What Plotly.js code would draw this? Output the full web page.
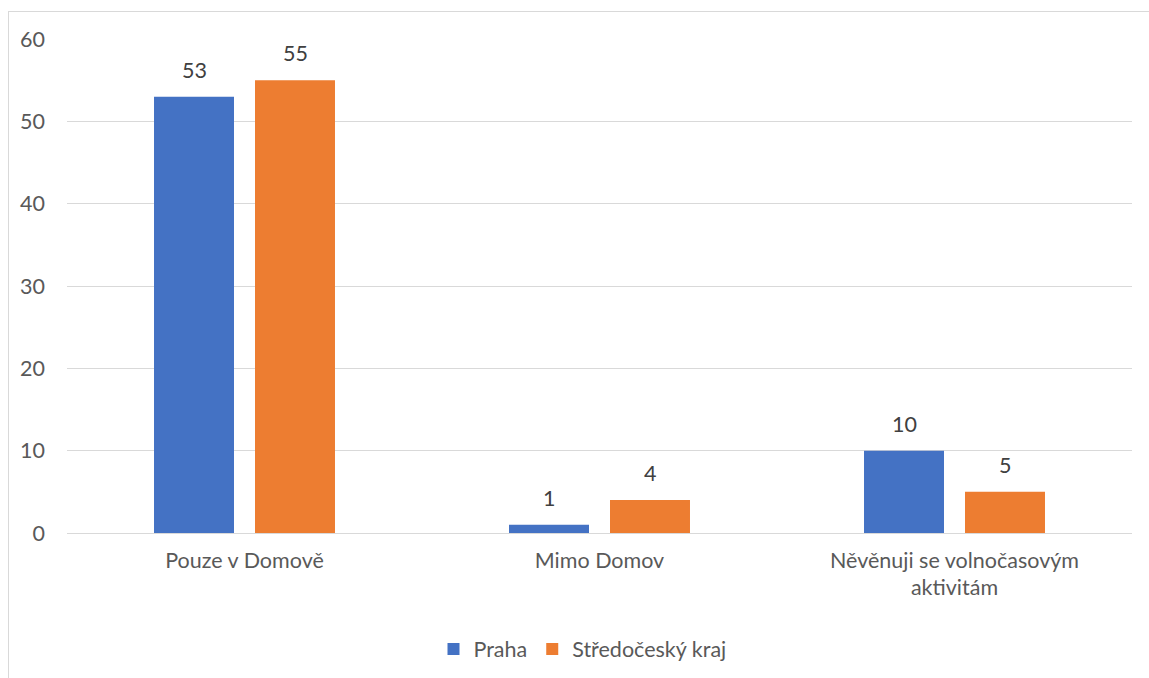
<!DOCTYPE html>
<html>
<head>
<meta charset="utf-8">
<script src="https://cdn.plot.ly/plotly-3.0.1.min.js"></script>
<style>
  html, body { margin: 0; padding: 0; background: #ffffff; overflow: hidden; }
  #frame { position: absolute; left: 8px; top: 11px; width: 2000px; height: 2000px;
           border: 1px solid #d9d9d9; box-sizing: border-box; z-index: 0; }
  #chart { position: absolute; left: 0; top: 0; width: 1149px; height: 678px; z-index: 1; }
</style>
</head>
<body>
<div id="frame"></div>
<div id="chart"></div>
<script>
const categories = ["Pouze v Domově", "Mimo Domov", "Něvěnuji se volnočasovým<br>aktivitám"];
const seriesNames = ["Praha", "Středočeský kraj"];
const praha = [53, 1, 10];
const stredocesky = [55, 4, 5];
const yTicks = [0, 10, 20, 30, 40, 50, 60];

const FONT = "Lato, 'Open Sans', sans-serif";
const TXT = "#595959";
const FS = 21.5;
const colors = ["#4472C4", "#ED7D31"];

const traces = [praha, stredocesky].map((vals, i) => ({
  type: "bar",
  name: seriesNames[i],
  x: categories,
  y: vals,
  marker: { color: colors[i] },
  hoverinfo: "none"
}));

// data labels above bars
const annotations = [];
[praha, stredocesky].forEach((vals, i) => {
  vals.forEach((v, j) => {
    annotations.push({
      x: categories[j], y: v, xref: "x", yref: "y",
      text: String(v), showarrow: false,
      xshift: i === 0 ? -50.5 : 50.5,
      yanchor: "middle", yshift: 27,
      font: { family: FONT, size: FS, color: "#404040" }
    });
  });
});

const layout = {
  width: 1149, height: 678,
  margin: { l: 67, r: 17, t: 39, b: 145, autoexpand: false },
  paper_bgcolor: "rgba(0,0,0,0)",
  plot_bgcolor: "rgba(0,0,0,0)",
  barmode: "group",
  bargap: 0.431,
  bargroupgap: 0.208,
  font: { family: FONT, size: FS, color: TXT },
  xaxis: {
    type: "category",
    automargin: false,
    showgrid: false,
    showline: false,
    zeroline: false,
    ticks: "",
    tickfont: { family: FONT, size: FS, color: TXT },
    ticklabelstandoff: 12
  },
  yaxis: {
    automargin: false,
    range: [0, 60],
    tickvals: yTicks,
    ticktext: yTicks.map(String),
    showgrid: true,
    gridcolor: "#d9d9d9",
    gridwidth: 1,
    zeroline: true,
    zerolinecolor: "#d9d9d9",
    zerolinewidth: 1,
    showline: false,
    ticks: "",
    ticklabelstandoff: 21,
    tickfont: { family: FONT, size: FS, color: TXT }
  },
  showlegend: true,
  legend: {
    orientation: "h",
    x: 0.5 + 8 / 1149, xanchor: "center", xref: "container",
    y: 1 - 649 / 678, yanchor: "middle", yref: "container",
    font: { family: FONT, size: FS, color: TXT },
    traceorder: "normal"
  },
  annotations: annotations
};

Plotly.newPlot("chart", traces, layout, { staticPlot: true, displayModeBar: false });
</script>
</body>
</html>
